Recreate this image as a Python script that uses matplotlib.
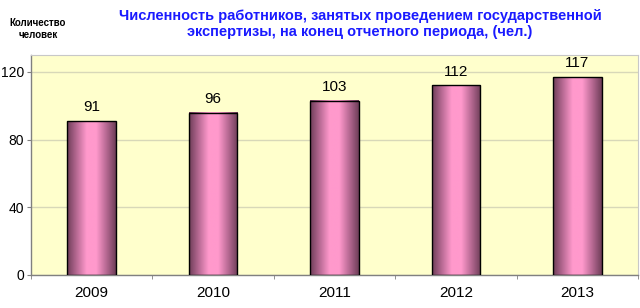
import numpy as np
import matplotlib
matplotlib.use('Agg')
from matplotlib import pyplot as plt
from matplotlib.colors import LinearSegmentedColormap

plt.rcParams['font.family'] = ['Liberation Sans', 'DejaVu Sans']

# data
years = ['2009', '2010', '2011', '2012', '2013']
workers = [91, 96, 103, 112, 117]

title = ('Численность работников, занятых проведением государственной\n'
         'экспертизы, на конец отчетного периода, (чел.)')
ylabel = 'Количество\nчеловек'

# bar shading: dark edges, pink middle
bar_cmap = LinearSegmentedColormap.from_list(
    'bar', ['#6e3d58', '#b86a94', '#ff99cc', '#ff99cc', '#b86a94', '#6e3d58'])

fig = plt.figure(figsize=(6.4, 3.08), dpi=100)
ax = fig.add_axes([31 / 640, 1 - 275 / 308, 607 / 640, 220 / 308])
ax.set_facecolor('#ffffcc')

x = np.arange(len(years))
width = 0.4
grad = np.linspace(0, 1, 256).reshape(1, -1)

bars = ax.bar(x, workers, width=width, color='none', edgecolor='black',
              linewidth=1, zorder=3)
for b, v in zip(bars, workers):
    x0 = b.get_x()
    ax.imshow(grad, cmap=bar_cmap, aspect='auto',
              extent=[x0, x0 + b.get_width(), 0, v], zorder=2)
    ax.text(b.get_x() + b.get_width() / 2, v + 4, str(v),
            ha='center', va='bottom', fontsize=11, zorder=4)

ax.set_xlim(-0.5, len(years) - 0.5)
ax.set_ylim(0, 130)
ax.set_yticks([0, 40, 80, 120])
ax.set_xticks(x)
ax.set_xticklabels(years, fontsize=11)
ax.set_xticks(np.arange(len(years) + 1) - 0.5, minor=True)
ax.tick_params(axis='x', which='major', length=0, pad=8)
ax.tick_params(axis='x', which='minor', length=3, color='#808080')
ax.tick_params(axis='y', labelsize=10, length=3, pad=2, color='#808080')
ax.grid(axis='y', color='#d8d8b8', linewidth=1, zorder=0)
ax.set_axisbelow(True)

for s in ['top', 'right']:
    ax.spines[s].set_color('#c8c8c8')
    ax.spines[s].set_linewidth(0.8)
for s in ['left', 'bottom']:
    ax.spines[s].set_color('#808080')
    ax.spines[s].set_linewidth(1)

fig.text(360 / 640, 1 - 24 / 308, title, ha='center', va='center',
         fontsize=10.5, fontweight='bold', color='#1a1aff', linespacing=1.25)
fig.text(38 / 640, 1 - 29 / 308, ylabel, ha='center', va='center',
         fontsize=7, fontweight='bold', linespacing=1.35)

fig.savefig('out.png', dpi=100)
